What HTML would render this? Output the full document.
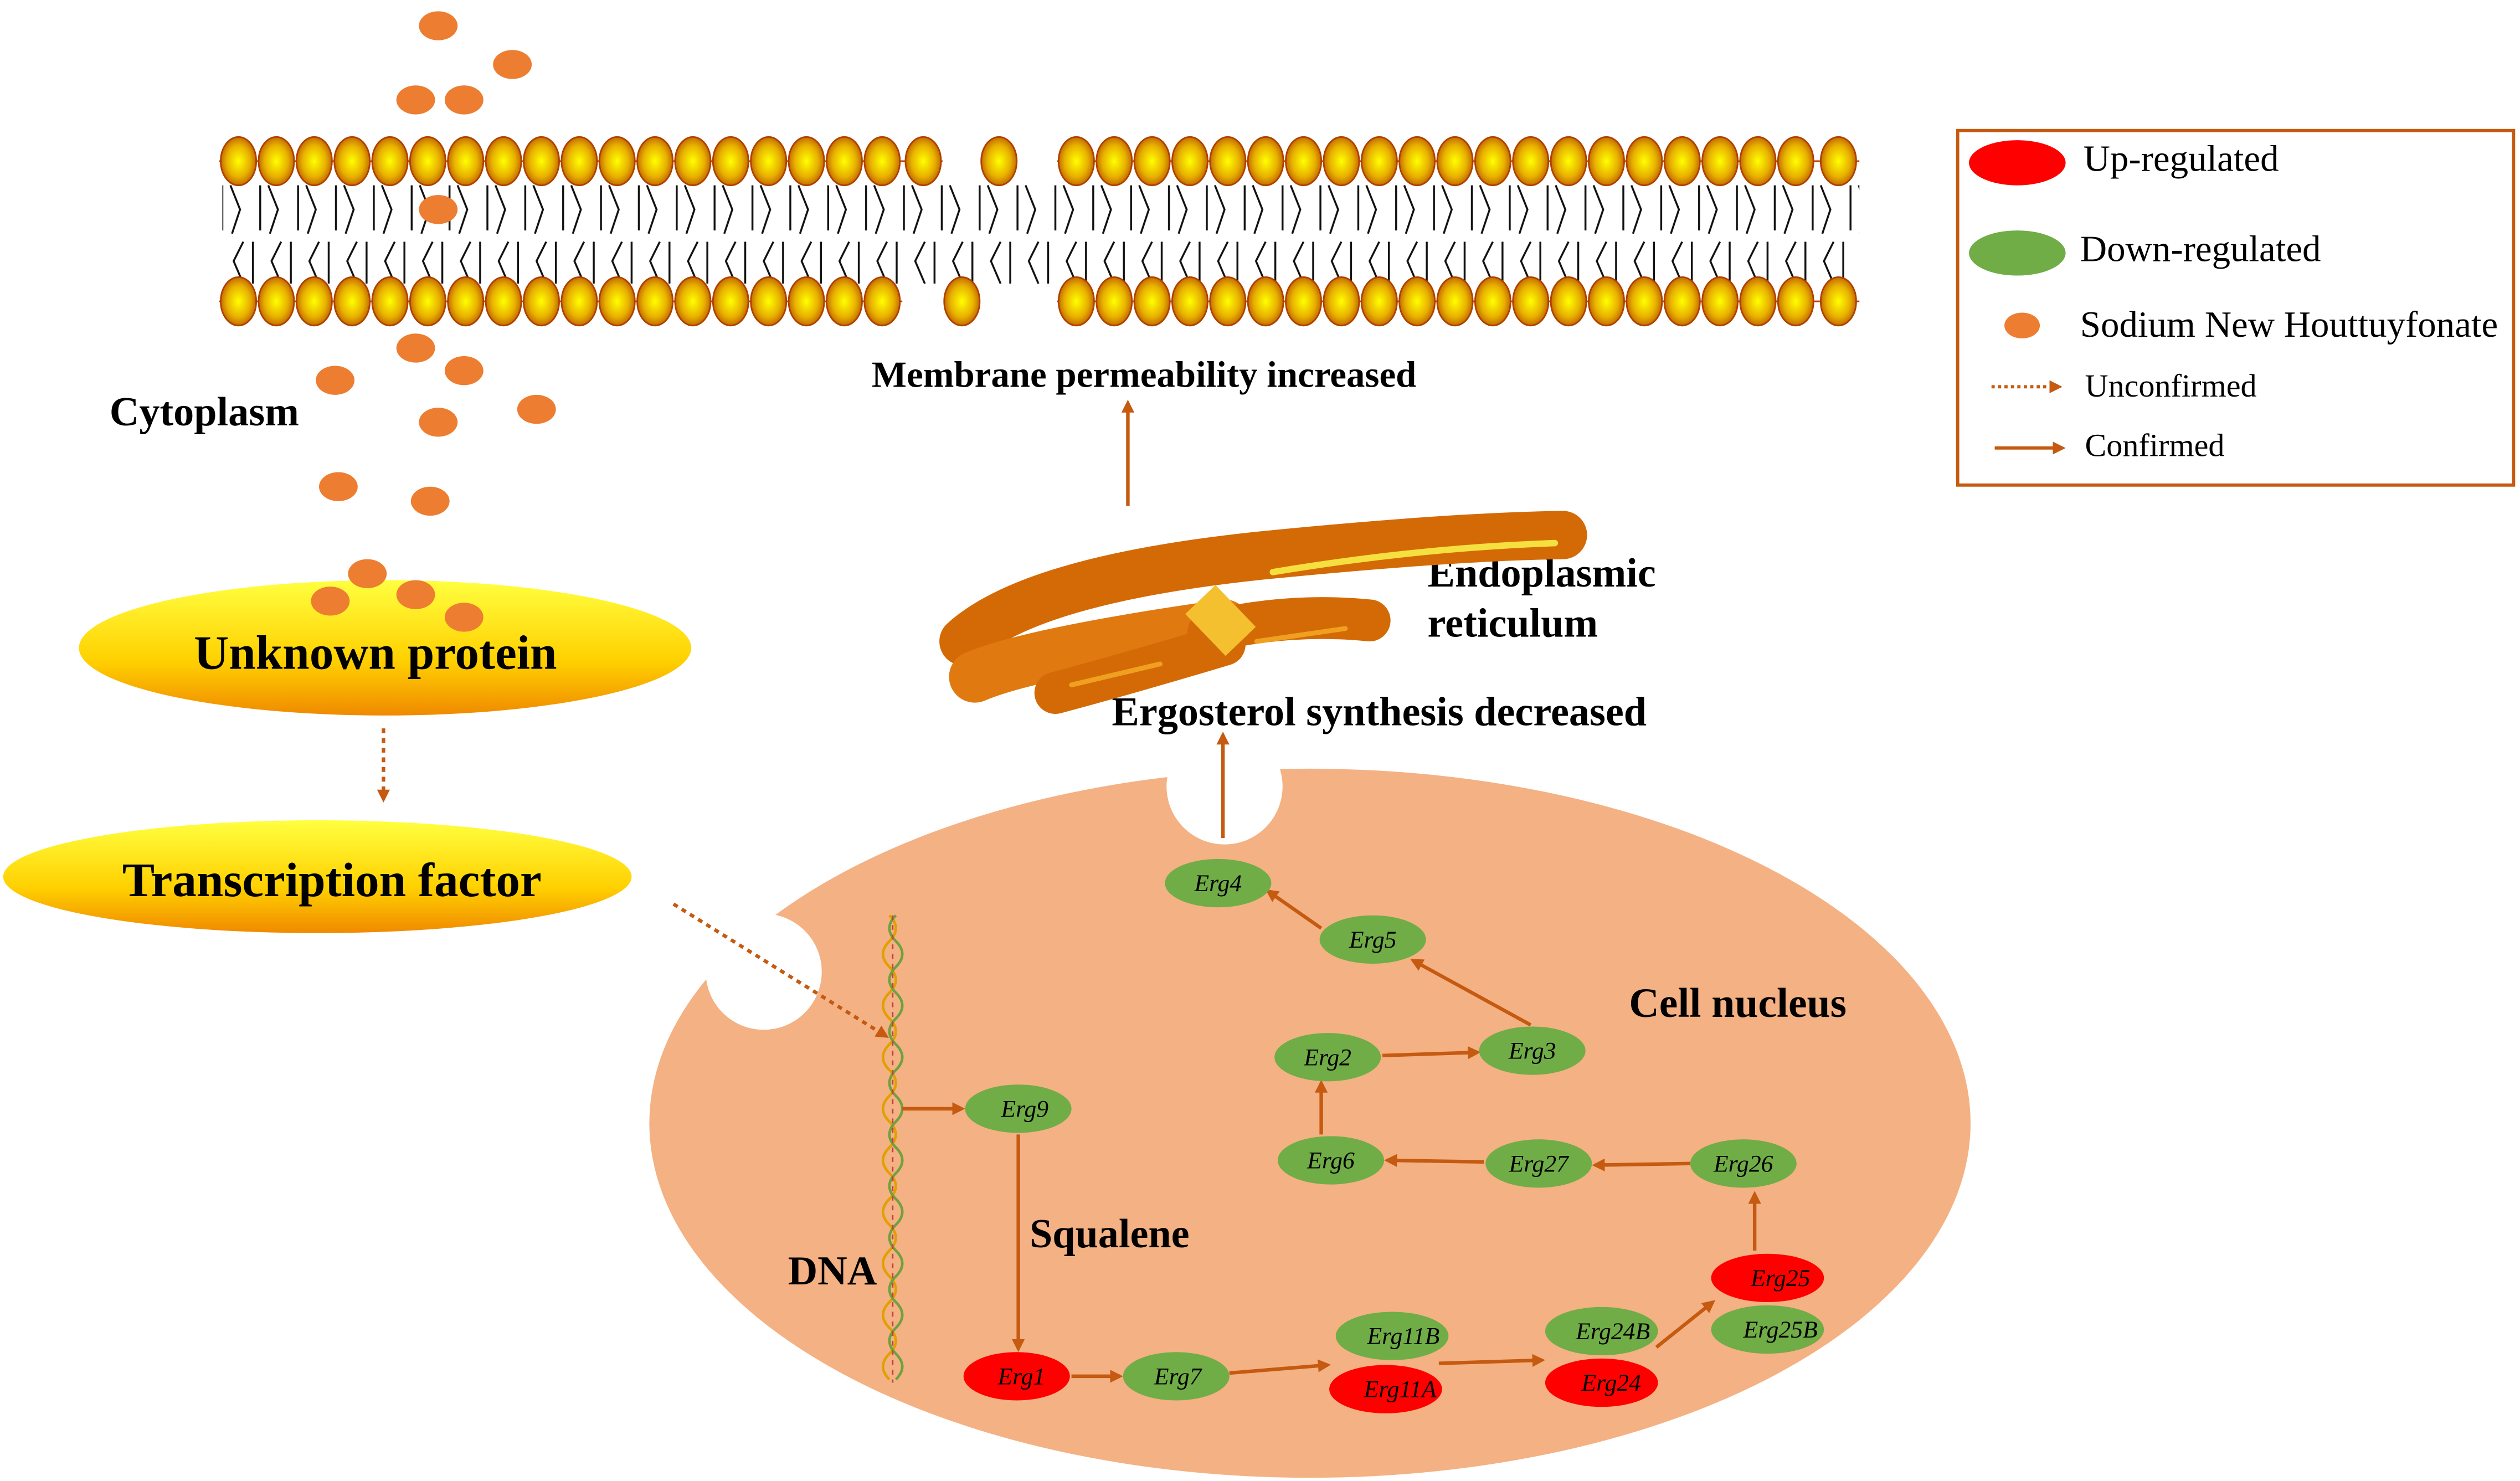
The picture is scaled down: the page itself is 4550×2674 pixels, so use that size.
<!DOCTYPE html>
<html><head><meta charset="utf-8"><style>html,body{margin:0;padding:0;background:#fff}svg{display:block}</style></head><body>
<svg width="4550" height="2674" viewBox="0 0 1564 919" preserveAspectRatio="none" xmlns="http://www.w3.org/2000/svg" font-family="Liberation Serif, serif">
<defs>
<radialGradient id="hd" cx="50%" cy="50%" r="55%"><stop offset="0" stop-color="#ffff00"/><stop offset="0.6" stop-color="#e8b000"/><stop offset="1" stop-color="#b85a00"/></radialGradient>
<linearGradient id="yl" x1="0" y1="0" x2="0" y2="1"><stop offset="0" stop-color="#ffff40"/><stop offset="0.6" stop-color="#ffd000"/><stop offset="1" stop-color="#f08a00"/></linearGradient>
<marker id="ar" markerWidth="8" markerHeight="8" refX="6" refY="4" orient="auto" markerUnits="userSpaceOnUse"><path d="M0,0 L8,4 L0,8 z" fill="#c55a11"/></marker>
<pattern id="tl" x="136" y="0" width="23.5" height="200" patternUnits="userSpaceOnUse">
<path d="M2,115 V143 M7,115 L13,130 L8,145 M21,150 V176 M15,150 L9,162 L15,176" stroke="#111" stroke-width="1.2" fill="none"/>
</pattern>
</defs>
<rect x="138" y="112" width="1016" height="66" fill="url(#tl)"/>
<g stroke="#c04000" stroke-width="1">
<line x1="136" y1="100" x2="585" y2="100"/><line x1="656" y1="100" x2="1154" y2="100"/>
<line x1="136" y1="187" x2="560" y2="187"/><line x1="656" y1="187" x2="1154" y2="187"/>
</g>
<g fill="url(#hd)" stroke="#b04000" stroke-width="1">
<ellipse cx="148" cy="100" rx="11" ry="15"/><ellipse cx="171.5" cy="100" rx="11" ry="15"/><ellipse cx="195" cy="100" rx="11" ry="15"/><ellipse cx="218.5" cy="100" rx="11" ry="15"/><ellipse cx="242" cy="100" rx="11" ry="15"/><ellipse cx="265.5" cy="100" rx="11" ry="15"/><ellipse cx="289" cy="100" rx="11" ry="15"/><ellipse cx="312.5" cy="100" rx="11" ry="15"/><ellipse cx="336" cy="100" rx="11" ry="15"/><ellipse cx="359.5" cy="100" rx="11" ry="15"/><ellipse cx="383" cy="100" rx="11" ry="15"/><ellipse cx="406.5" cy="100" rx="11" ry="15"/><ellipse cx="430" cy="100" rx="11" ry="15"/><ellipse cx="453.5" cy="100" rx="11" ry="15"/><ellipse cx="477" cy="100" rx="11" ry="15"/><ellipse cx="500.5" cy="100" rx="11" ry="15"/><ellipse cx="524" cy="100" rx="11" ry="15"/><ellipse cx="547.5" cy="100" rx="11" ry="15"/><ellipse cx="573" cy="100" rx="11" ry="15"/><ellipse cx="620" cy="100" rx="11" ry="15"/>
<ellipse cx="668" cy="100" rx="11" ry="15"/><ellipse cx="691.5" cy="100" rx="11" ry="15"/><ellipse cx="715" cy="100" rx="11" ry="15"/><ellipse cx="738.5" cy="100" rx="11" ry="15"/><ellipse cx="762" cy="100" rx="11" ry="15"/><ellipse cx="785.5" cy="100" rx="11" ry="15"/><ellipse cx="809" cy="100" rx="11" ry="15"/><ellipse cx="832.5" cy="100" rx="11" ry="15"/><ellipse cx="856" cy="100" rx="11" ry="15"/><ellipse cx="879.5" cy="100" rx="11" ry="15"/><ellipse cx="903" cy="100" rx="11" ry="15"/><ellipse cx="926.5" cy="100" rx="11" ry="15"/><ellipse cx="950" cy="100" rx="11" ry="15"/><ellipse cx="973.5" cy="100" rx="11" ry="15"/><ellipse cx="997" cy="100" rx="11" ry="15"/><ellipse cx="1020.5" cy="100" rx="11" ry="15"/><ellipse cx="1044" cy="100" rx="11" ry="15"/><ellipse cx="1067.5" cy="100" rx="11" ry="15"/><ellipse cx="1091" cy="100" rx="11" ry="15"/><ellipse cx="1114.5" cy="100" rx="11" ry="15"/><ellipse cx="1141" cy="100" rx="11" ry="15"/>
<ellipse cx="148" cy="187" rx="11" ry="15"/><ellipse cx="171.5" cy="187" rx="11" ry="15"/><ellipse cx="195" cy="187" rx="11" ry="15"/><ellipse cx="218.5" cy="187" rx="11" ry="15"/><ellipse cx="242" cy="187" rx="11" ry="15"/><ellipse cx="265.5" cy="187" rx="11" ry="15"/><ellipse cx="289" cy="187" rx="11" ry="15"/><ellipse cx="312.5" cy="187" rx="11" ry="15"/><ellipse cx="336" cy="187" rx="11" ry="15"/><ellipse cx="359.5" cy="187" rx="11" ry="15"/><ellipse cx="383" cy="187" rx="11" ry="15"/><ellipse cx="406.5" cy="187" rx="11" ry="15"/><ellipse cx="430" cy="187" rx="11" ry="15"/><ellipse cx="453.5" cy="187" rx="11" ry="15"/><ellipse cx="477" cy="187" rx="11" ry="15"/><ellipse cx="500.5" cy="187" rx="11" ry="15"/><ellipse cx="524" cy="187" rx="11" ry="15"/><ellipse cx="547.5" cy="187" rx="11" ry="15"/><ellipse cx="597" cy="187" rx="11" ry="15"/>
<ellipse cx="668" cy="187" rx="11" ry="15"/><ellipse cx="691.5" cy="187" rx="11" ry="15"/><ellipse cx="715" cy="187" rx="11" ry="15"/><ellipse cx="738.5" cy="187" rx="11" ry="15"/><ellipse cx="762" cy="187" rx="11" ry="15"/><ellipse cx="785.5" cy="187" rx="11" ry="15"/><ellipse cx="809" cy="187" rx="11" ry="15"/><ellipse cx="832.5" cy="187" rx="11" ry="15"/><ellipse cx="856" cy="187" rx="11" ry="15"/><ellipse cx="879.5" cy="187" rx="11" ry="15"/><ellipse cx="903" cy="187" rx="11" ry="15"/><ellipse cx="926.5" cy="187" rx="11" ry="15"/><ellipse cx="950" cy="187" rx="11" ry="15"/><ellipse cx="973.5" cy="187" rx="11" ry="15"/><ellipse cx="997" cy="187" rx="11" ry="15"/><ellipse cx="1020.5" cy="187" rx="11" ry="15"/><ellipse cx="1044" cy="187" rx="11" ry="15"/><ellipse cx="1067.5" cy="187" rx="11" ry="15"/><ellipse cx="1091" cy="187" rx="11" ry="15"/><ellipse cx="1114.5" cy="187" rx="11" ry="15"/><ellipse cx="1141" cy="187" rx="11" ry="15"/>
</g>

<ellipse cx="813" cy="697" rx="410" ry="220" fill="#f4b183"/>
<circle cx="760" cy="488" r="36" fill="#fff"/>
<circle cx="474" cy="603" r="36" fill="#fff"/>

<ellipse cx="239" cy="402" rx="190" ry="42" fill="url(#yl)"/>
<ellipse cx="197" cy="544" rx="195" ry="35" fill="url(#yl)"/>
<text x="233" y="415" font-size="30" font-weight="bold" text-anchor="middle">Unknown protein</text>
<text x="206" y="556" font-size="30" font-weight="bold" text-anchor="middle">Transcription factor</text>

<g fill="#ed7d31">
<ellipse cx="272" cy="16" rx="12" ry="9"/><ellipse cx="318" cy="40" rx="12" ry="9"/><ellipse cx="258" cy="62" rx="12" ry="9"/><ellipse cx="288" cy="62" rx="12" ry="9"/><ellipse cx="272" cy="130" rx="12" ry="9"/><ellipse cx="258" cy="216" rx="12" ry="9"/><ellipse cx="208" cy="236" rx="12" ry="9"/><ellipse cx="288" cy="230" rx="12" ry="9"/><ellipse cx="272" cy="262" rx="12" ry="9"/><ellipse cx="333" cy="254" rx="12" ry="9"/><ellipse cx="210" cy="302" rx="12" ry="9"/><ellipse cx="267" cy="311" rx="12" ry="9"/><ellipse cx="228" cy="356" rx="12" ry="9"/><ellipse cx="205" cy="373" rx="12" ry="9"/><ellipse cx="258" cy="369" rx="12" ry="9"/><ellipse cx="288" cy="383" rx="12" ry="9"/><ellipse cx="1255" cy="202" rx="11" ry="8"/>
</g>

<g font-weight="bold">
<text x="68" y="264" font-size="25.5">Cytoplasm</text>
<text x="541" y="240" font-size="23">Membrane permeability increased</text>
<text x="886" y="364" font-size="25.5">Endoplasmic</text>
<text x="886" y="395" font-size="25.5">reticulum</text>
<text x="690" y="450" font-size="25.5">Ergosterol synthesis decreased</text>
<text x="1011" y="631" font-size="26">Cell nucleus</text>
<text x="639" y="774" font-size="25.5">Squalene</text>
<text x="489" y="797" font-size="25.5">DNA</text>
</g>

<!-- ER -->
<g fill="none" stroke-linecap="round">
<path d="M598,398 Q640,360 780,345 Q900,333 970,332" stroke="#d46a06" stroke-width="30"/>
<path d="M605,420 Q640,405 760,388" stroke="#e07a10" stroke-width="32"/>
<path d="M655,430 Q700,418 760,400" stroke="#d46a06" stroke-width="26"/>
<path d="M750,392 Q800,380 850,385" stroke="#d46a06" stroke-width="26"/>
<path d="M790,355 Q880,340 965,337" stroke="#f5e040" stroke-width="4"/>
<path d="M745,372 L770,398" stroke="#f5c030" stroke-width="26" stroke-linecap="butt"/>
<path d="M780,398 L835,390" stroke="#f0a020" stroke-width="3"/>
<path d="M665,425 L720,412" stroke="#f0a020" stroke-width="3"/>
</g>

<g fill="none" stroke-width="1.6">
<path d="M552,568 Q560,576 552,584 Q544,592 552,600 Q560,608 552,616 Q544,624 552,632 Q560,640 552,648 Q544,656 552,664 Q560,672 552,680 Q544,688 552,696 Q560,704 552,712 Q544,720 552,728 Q560,736 552,744 Q544,752 552,760 Q560,768 552,776 Q544,784 552,792 Q560,800 552,808 Q544,816 552,824 Q560,832 552,840 Q544,848 552,856" stroke="#e0a000"/>
<path d="M556,568 Q548,576 556,584 Q564,592 556,600 Q548,608 556,616 Q564,624 556,632 Q548,640 556,648 Q564,656 556,664 Q548,672 556,680 Q564,688 556,696 Q548,704 556,712 Q564,720 556,728 Q548,736 556,744 Q564,752 556,760 Q548,768 556,776 Q564,784 556,792 Q548,800 556,808 Q564,816 556,824 Q548,832 556,840 Q564,848 556,856" stroke="#70a040"/>
<path d="M554,568 V858" stroke="#c04040" stroke-width="1" stroke-dasharray="3,3"/>
</g>

<g stroke="#c55a11" stroke-width="2.2" fill="none">
<line x1="700" y1="314" x2="700" y2="250" marker-end="url(#ar)"/>
<line x1="759" y1="520" x2="759" y2="456" marker-end="url(#ar)"/>
<line x1="238" y1="452" x2="238" y2="496" stroke-dasharray="3,3" marker-end="url(#ar)"/>
<line x1="418" y1="561" x2="550" y2="643" stroke-dasharray="3,3" marker-end="url(#ar)"/>
<line x1="560" y1="688" x2="597" y2="688" marker-end="url(#ar)"/>
<line x1="632" y1="704" x2="632" y2="837" marker-end="url(#ar)"/>
<line x1="665" y1="854" x2="695" y2="854" marker-end="url(#ar)"/>
<line x1="763" y1="852" x2="824" y2="847" marker-end="url(#ar)"/>
<line x1="893" y1="846" x2="957" y2="844" marker-end="url(#ar)"/>
<line x1="1028" y1="836" x2="1063" y2="808" marker-end="url(#ar)"/>
<line x1="1089" y1="776" x2="1089" y2="741" marker-end="url(#ar)"/>
<line x1="1049" y1="722" x2="990" y2="723" marker-end="url(#ar)"/>
<line x1="921" y1="721" x2="861" y2="720" marker-end="url(#ar)"/>
<line x1="820" y1="704" x2="820" y2="672" marker-end="url(#ar)"/>
<line x1="858" y1="655" x2="917" y2="653" marker-end="url(#ar)"/>
<line x1="950" y1="636" x2="877" y2="596" marker-end="url(#ar)"/>
<line x1="820" y1="576" x2="787" y2="553" marker-end="url(#ar)"/>
</g>

<g font-size="15" font-style="italic" text-anchor="middle">
<g fill="#70ad47">
<ellipse cx="756" cy="548" rx="33" ry="15"/><ellipse cx="852" cy="583" rx="33" ry="15"/><ellipse cx="951" cy="652" rx="33" ry="15"/><ellipse cx="824" cy="656" rx="33" ry="15"/><ellipse cx="826" cy="720" rx="33" ry="15"/><ellipse cx="955" cy="722" rx="33" ry="15"/><ellipse cx="1082" cy="722" rx="33" ry="15"/><ellipse cx="1097" cy="825" rx="35" ry="15"/><ellipse cx="994" cy="826" rx="35" ry="15"/><ellipse cx="864" cy="829" rx="35" ry="15"/><ellipse cx="730" cy="854" rx="33" ry="15"/><ellipse cx="632" cy="688" rx="33" ry="15"/>
</g>
<g fill="#ff0000">
<ellipse cx="1097" cy="793" rx="35" ry="15"/><ellipse cx="994" cy="858" rx="35" ry="15"/><ellipse cx="860" cy="862" rx="35" ry="15"/><ellipse cx="631" cy="854" rx="33" ry="15"/>
</g>
<text x="756" y="553">Erg4</text><text x="852" y="588">Erg5</text><text x="951" y="657">Erg3</text><text x="824" y="661">Erg2</text><text x="826" y="725">Erg6</text><text x="955" y="727">Erg27</text><text x="1082" y="727">Erg26</text><text x="1105" y="798">Erg25</text><text x="1105" y="830">Erg25B</text><text x="1001" y="831">Erg24B</text><text x="1000" y="863">Erg24</text><text x="871" y="834">Erg11B</text><text x="869" y="867">Erg11A</text><text x="731" y="859">Erg7</text><text x="634" y="859">Erg1</text><text x="636" y="693">Erg9</text>
</g>

<rect x="1215" y="81" width="345" height="220" fill="none" stroke="#c55a11" stroke-width="2"/>
<ellipse cx="1252" cy="101" rx="30" ry="14" fill="#ff0000"/>
<ellipse cx="1252" cy="157" rx="30" ry="14" fill="#70ad47"/>
<g font-size="23">
<text x="1293" y="106">Up-regulated</text>
<text x="1291" y="162">Down-regulated</text>
<text x="1291" y="209">Sodium New Houttuyfonate</text>
<text x="1294" y="246" font-size="20">Unconfirmed</text>
<text x="1294" y="283" font-size="20">Confirmed</text>
</g>
<g stroke="#c55a11" stroke-width="2">
<line x1="1236" y1="240" x2="1278" y2="240" stroke-dasharray="2,2" marker-end="url(#ar)"/>
<line x1="1238" y1="278" x2="1280" y2="278" marker-end="url(#ar)"/>
</g>
</svg>
</body></html>
